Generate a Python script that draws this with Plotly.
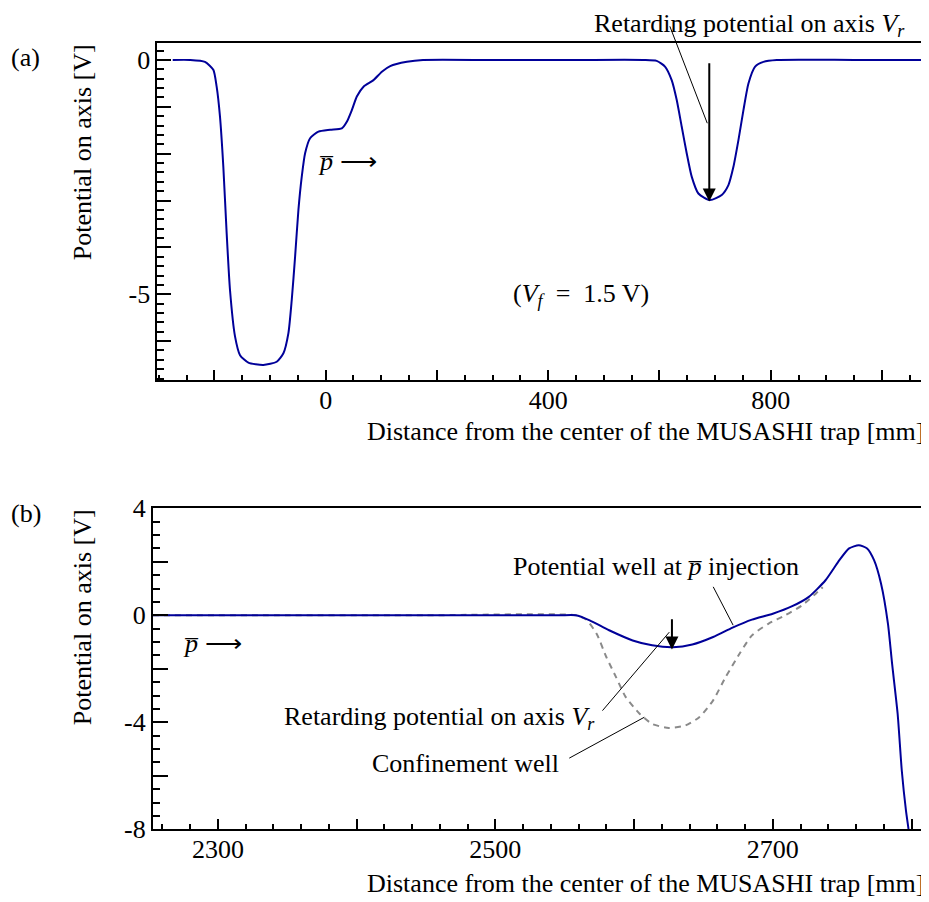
import plotly.graph_objects as go

OFF = 8                      # page body margin of the browser
W, H = 929 - OFF, 902 - OFF  # figure size so it fits in the 929x902 window
FONT = "Liberation Serif"
FS = 26
BLUE = "#000099"
GREY = "#8a8a8a"

# ---------------- data (a) ----------------
xa = [-275, -244, -217, -202, -196, -190, -184, -178, -172, -163, -154, -139, -112,
      -88, -76, -67, -61, -55, -49, -43, -37, -28, -13, 8, 29, 38, 47, 56, 68, 86,
      101, 116, 146, 175, 300, 450, 571, 595, 610, 622, 631, 640, 649, 658, 670,
      691, 712, 724, 733, 742, 751, 760, 772, 787, 811, 950, 1071]
ya = [0, 0, -0.04, -0.21, -0.57, -1.21, -2.28, -3.70, -4.91, -5.90, -6.30, -6.46, -6.51,
      -6.44, -6.26, -5.83, -5.12, -4.20, -3.20, -2.49, -1.99, -1.67, -1.53, -1.49, -1.46,
      -1.32, -1.07, -0.78, -0.57, -0.43, -0.25, -0.13, -0.04, 0, 0, 0, 0, -0.02, -0.14,
      -0.43, -0.85, -1.42, -1.99, -2.49, -2.85, -2.99, -2.88, -2.67, -2.28, -1.71, -1.07,
      -0.50, -0.14, -0.04, 0, 0, 0]

# ---------------- data (b) ----------------
xb = [2253, 2350, 2450, 2546, 2558, 2568, 2582, 2599, 2613, 2628, 2642, 2657, 2671, 2685,
      2700, 2714, 2726, 2738, 2748, 2755, 2762, 2768, 2773, 2778, 2783, 2786, 2790, 2793,
      2796, 2798, 2799]
yb = [0, 0, 0, 0, 0, -0.19, -0.56, -0.94, -1.12, -1.19, -1.09, -0.81, -0.46, -0.16,
      0.06, 0.34, 0.69, 1.31, 2.06, 2.50, 2.62, 2.50, 2.06, 1.19, -0.31, -1.81, -3.68,
      -5.81, -7.30, -8.05, -8.5]

xc = [2253, 2350, 2450, 2558, 2565.5, 2573, 2580, 2587, 2594, 2604, 2613, 2625, 2637,
      2647, 2657, 2666, 2676, 2685, 2697, 2709, 2721, 2731, 2736]
yc = [0, 0, 0, 0, -0.16, -0.69, -1.56, -2.31, -3.06, -3.68, -4.06, -4.21, -4.12,
      -3.81, -3.18, -2.31, -1.44, -0.75, -0.31, 0, 0.37, 0.81, 1.05]

# arrows (retarding potential on axis)
arrow_a = dict(x=689.6, y_top=-0.04, y_tip=-3.02)
arrow_b = dict(x=2627.3, y_top=-0.09, y_tip=-1.28)

xa_ticks = [-200, 0, 200, 400, 600, 800, 1000]
xa_text = ["", "0", "", "400", "", "800", ""]
ya_ticks = [-6, -5, -4, -3, -2, -1, 0]
ya_text = ["", "-5", "", "", "", "", "0"]
xb_ticks = [2300, 2400, 2500, 2600, 2700, 2800]
xb_text = ["2300", "", "2500", "", "2700", ""]
yb_ticks = [-8, -6, -4, -2, 0, 2, 4]
yb_text = ["-8", "", "-4", "", "0", "", "4"]


def px(x):
    return (x - OFF) / W


def py(y):
    return 1 - (y - OFF) / H


fig = go.Figure()
fig.add_trace(go.Scatter(x=xa, y=ya, mode="lines", line=dict(color=BLUE, width=2, shape="spline", smoothing=0.6),
                         xaxis="x", yaxis="y", showlegend=False, hoverinfo="skip"))
fig.add_trace(go.Scatter(x=xc, y=yc, mode="lines", line=dict(color=GREY, width=2, dash="6px,5px", shape="spline", smoothing=0.6),
                         xaxis="x2", yaxis="y2", showlegend=False, hoverinfo="skip"))
fig.add_trace(go.Scatter(x=xb, y=yb, mode="lines", line=dict(color=BLUE, width=2, shape="spline", smoothing=0.6),
                         xaxis="x2", yaxis="y2", showlegend=False, hoverinfo="skip"))

axis_common = dict(showline=True, linecolor="black", linewidth=1.7, mirror=True, showgrid=False,
                   zeroline=False, ticks="inside", tickcolor="black", tickwidth=1.5, automargin=False,
                   tickfont=dict(family=FONT, size=FS, color="black"), tickmode="array")

fig.update_layout(
    template="none",
    width=W, height=H, margin=dict(l=0, r=0, t=0, b=0, pad=0, autoexpand=False),
    paper_bgcolor="white", plot_bgcolor="white",
    font=dict(family=FONT, size=FS, color="black"),
    xaxis=dict(axis_common, domain=[px(157.3), px(925)], range=[-302.7, 1077.4], anchor="y",
               tickvals=xa_ticks, ticktext=xa_text, ticklen=10, ticklabelstandoff=-4,
               minor=dict(ticks="inside", tickmode="linear", tick0=0, dtick=50, ticklen=5, tickwidth=1.5, tickcolor="black")),
    yaxis=dict(axis_common, domain=[py(380), py(43.3)], range=[-6.83, 0.356], anchor="x",
               tickvals=ya_ticks, ticktext=ya_text, ticklen=14,
               minor=dict(ticks="inside", tickmode="linear", tick0=0, dtick=0.2, ticklen=7, tickwidth=1.5, tickcolor="black")),
    xaxis2=dict(axis_common, domain=[px(152.7), px(924)], range=[2253, 2809], anchor="y2",
                tickvals=xb_ticks, ticktext=xb_text, ticklen=10, ticklabelstandoff=-4,
                minor=dict(ticks="inside", tickmode="linear", tick0=2300, dtick=20, ticklen=5, tickwidth=1.5, tickcolor="black")),
    yaxis2=dict(axis_common, domain=[py(829.3), py(508.3)], range=[-8, 4], anchor="x2",
                tickvals=yb_ticks, ticktext=yb_text, ticklen=15,
                minor=dict(ticks="inside", tickmode="linear", tick0=0, dtick=0.5, ticklen=7, tickwidth=1.5, tickcolor="black")),
)

ann = []


def text(s, x, y, xanchor="left", yanchor="middle", angle=0):
    ann.append(dict(text=s, x=px(x), y=py(y), xref="paper", yref="paper", showarrow=False,
                    xanchor=xanchor, yanchor=yanchor, textangle=angle, borderpad=0,
                    font=dict(family=FONT, size=FS, color="black")))


PBAR = "<i>p\u0305</i>"
VR = "<i>V</i><sub><i>r</i></sub>"
ARROW = "\u27f6"

text("(a)", 10, 58)
text("(b)", 10, 513)
text("Potential on axis [V]", 82, 43.3, xanchor="center", yanchor="top", angle=-90)
text("Potential on axis [V]", 82, 508.3, xanchor="center", yanchor="top", angle=-90)
text("Distance from the center of the MUSASHI trap [mm]", 925, 431.7, xanchor="right")
text("Distance from the center of the MUSASHI trap [mm]", 925, 883, xanchor="right")
text("Retarding potential on axis " + VR, 593.3, OFF, yanchor="top")
text("(<i>V</i><sub><i>f</i></sub>\u2002=\u20021.5 V)", 511.7, 295)
text(PBAR + " " + ARROW, 316.7, 161.7)
text(PBAR + " " + ARROW, 181.7, 643.3)
text("Potential well at " + PBAR + " injection", 511.7, 566)
text("Retarding potential on axis " + VR, 282.7, 718.3)
text("Confinement well", 371, 763.3)

# arrows
ann.append(dict(x=arrow_a["x"], y=arrow_a["y_tip"], ax=arrow_a["x"], ay=arrow_a["y_top"],
                xref="x", yref="y", axref="x", ayref="y", text="", showarrow=True,
                arrowhead=2, arrowsize=1.3, arrowwidth=2, arrowcolor="black", standoff=0))
ann.append(dict(x=arrow_b["x"], y=arrow_b["y_tip"], ax=arrow_b["x"], ay=arrow_b["y_top"],
                xref="x2", yref="y2", axref="x2", ayref="y2", text="", showarrow=True,
                arrowhead=2, arrowsize=1.3, arrowwidth=2, arrowcolor="black", standoff=0))

# leader lines
leaders = [
    ("x", "y", 686.0, -1.35, 617.7, 0.75),
    ("x2", "y2", 2671.4, -0.37, 2656.5, 1.12),
    ("x2", "y2", 2625.4, -0.63, 2576.3, -3.62),
    ("x2", "y2", 2607.4, -3.81, 2552.2, -5.37),
]
for xr, yr, x0, y0, x1, y1 in leaders:
    ann.append(dict(x=x0, y=y0, ax=x1, ay=y1, xref=xr, yref=yr, axref=xr, ayref=yr, text="",
                    showarrow=True, arrowhead=0, arrowwidth=1, arrowcolor="black", standoff=0))

fig.update_layout(annotations=ann)
fig.write_html("out.html")
